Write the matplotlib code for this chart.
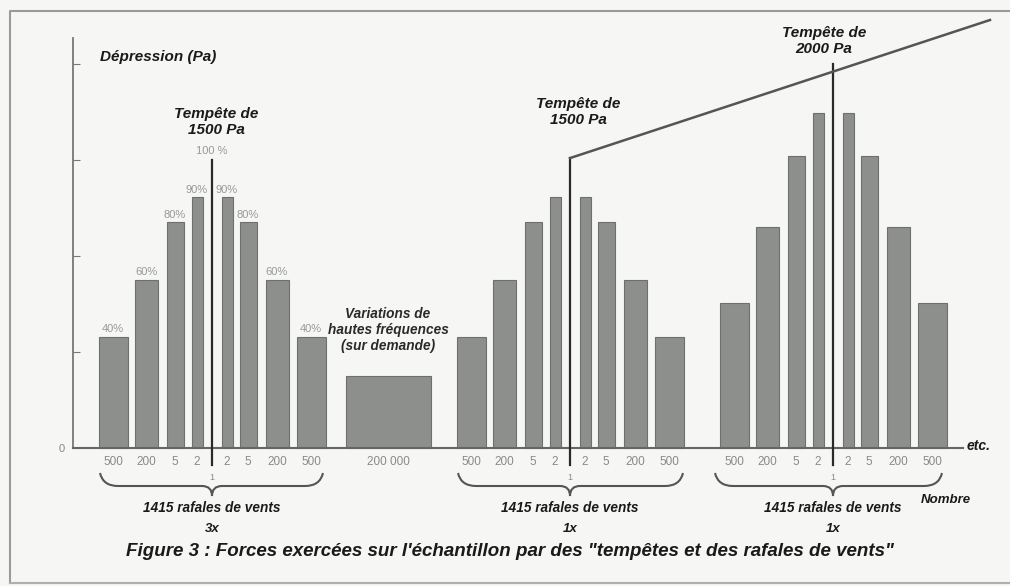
import numpy as np
import matplotlib
matplotlib.use("Agg")
import matplotlib.pyplot as plt
from matplotlib.path import Path
from matplotlib.patches import PathPatch

plt.rcParams['font.family'] = ['Liberation Sans', 'DejaVu Sans']

# data (Pa)
gust_counts = ["500", "200", "5", "2", "2", "5", "200", "500"]
pct_labels = ["40%", "60%", "80%", "90%", "90%", "80%", "60%", "40%"]
storm_1500 = [580, 875, 1175, 1305, 1305, 1175, 875, 580]
storm_2000 = [755, 1150, 1520, 1745, 1745, 1520, 1150, 755]
hf_value = 375
hf_label = "200 000"
storm_peaks = [1500, 1510, 2000]
storm_names = ["Tempête de\n1500 Pa", "Tempête de\n1500 Pa", "Tempête de\n2000 Pa"]
repeat_labels = ["3x", "1x", "1x"]
y_ticks = [0, 500, 1000, 1500, 2000]

# layout (pixel-like x units, figure is 1010 px wide)
W, H = 1010, 586
base_px = 448
pa_per_px = 500 / 96.0
storm_x = [212, 570, 833]
slot_off = [-99, -66, -37, -15, 15, 36, 65, 99]
slot_w = [29, 23, 17, 11, 11, 17, 23, 29]
hf_x, hf_w = 388, 85

bar_col = '#8c8f8c'
edge_col = '#6e706e'
bg = '#f6f6f4'

fig = plt.figure(figsize=(W / 100, H / 100), dpi=100, facecolor=bg)
ax = fig.add_axes([0, 0, 1, 1])
ax.set_facecolor('none')
ax.set_xlim(0, W)
ax.set_ylim(-(H - base_px) * pa_per_px, base_px * pa_per_px)

groups = [storm_1500, storm_1500, storm_2000]
tick_pos, tick_lab = [], []
for g, (sx, vals) in enumerate(zip(storm_x, groups)):
    xs = [sx + o for o in slot_off]
    ax.bar(xs, vals, width=slot_w, color=bar_col, edgecolor=edge_col, linewidth=0.8, zorder=2)
    tick_pos += xs
    tick_lab += gust_counts
    if g == 1:
        ax.bar(hf_x, hf_value, width=hf_w, color=bar_col, edgecolor=edge_col, linewidth=0.8, zorder=2)
        tick_pos.append(hf_x)
        tick_lab.append(hf_label)
    # storm line
    ax.plot([sx, sx], [-17 * pa_per_px, storm_peaks[g]], color='#2a2a2a', lw=1.6, zorder=3)

# percent labels on the first group
for o, v, p in zip(slot_off, storm_1500, pct_labels):
    ax.annotate(p, (storm_x[0] + o, v), xytext=(0, 2), textcoords='offset points',
                ha='center', va='bottom', fontsize=8, color='#999999')
ax.annotate("100 %", (storm_x[0], storm_peaks[0]), xytext=(0, 3), textcoords='offset points',
            ha='center', va='bottom', fontsize=8, color='#999999')

# rising line from the 1500 Pa storm to the 2000 Pa storm and beyond
ax.plot([storm_x[1], 990], [storm_peaks[1], (base_px - 20) * pa_per_px], color='#555555', lw=1.8, zorder=3)

# axes
for s in ['top', 'right']:
    ax.spines[s].set_visible(False)
ax.spines['left'].set_position(('data', 73))
ax.spines['left'].set_bounds(0, (base_px - 38) * pa_per_px)
ax.spines['bottom'].set_position(('data', 0))
ax.spines['bottom'].set_bounds(73, 963)
ax.spines['left'].set_color('#777777')
ax.spines['bottom'].set_color('#666666')
ax.spines['left'].set_linewidth(1.3)
ax.spines['bottom'].set_linewidth(1.5)
ax.set_yticks(y_ticks, ['0', '', '', '', ''])
ax.tick_params(axis='y', direction='in', length=5, color='#777777', labelcolor='#888888', labelsize=8, pad=6)
ax.set_xticks(tick_pos, tick_lab)
ax.tick_params(axis='x', length=0, labelcolor='#8a8a8a', labelsize=8.5, pad=6)

# overlay in pixel coordinates for annotations
ov = fig.add_axes([0, 0, 1, 1])
ov.set_xlim(0, W)
ov.set_ylim(H, 0)
ov.axis('off')

# scan frame
ov.plot([10, 10, W + 5], [583, 11, 11], color='#9a9a9a', lw=1.5)
ov.plot([10, W + 5], [583, 583], color='#b0b0b0', lw=1.5)

bi = dict(fontweight='bold', fontstyle='italic', color='#1a1a1a')
ov.text(100, 57, "Dépression (Pa)", fontsize=11, ha='left', va='center', **bi)
name_pos = [(216, 122), (578, 112), (824, 41)]
for (tx, ty), name in zip(name_pos, storm_names):
    ov.text(tx, ty, name, fontsize=11, ha='center', va='center', linespacing=1.1, **bi)
ov.text(hf_x, 330, "Variations de\nhautes fréquences\n(sur demande)", fontsize=9.8,
        ha='center', va='center', linespacing=1.2, fontweight='bold', fontstyle='italic', color='#2a2a2a')
ov.text(979, 446, "etc.", fontsize=10, ha='center', va='center', **bi)
ov.text(946, 500, "Nombre", fontsize=9.5, ha='center', va='center', **bi)


def brace(x0, x1, xc, y0=473, ym=486, yt=496):
    verts = [(x0, y0), (x0 + 3, ym), (x0 + 18, ym),
             (xc - 10, ym), (xc, ym), (xc, yt),
             (xc, ym), (xc + 10, ym),
             (x1 - 18, ym), (x1 - 3, ym), (x1, y0)]
    codes = [Path.MOVETO, Path.CURVE3, Path.CURVE3,
             Path.LINETO, Path.CURVE3, Path.CURVE3,
             Path.CURVE3, Path.CURVE3,
             Path.LINETO, Path.CURVE3, Path.CURVE3]
    ov.add_patch(PathPatch(Path(verts, codes), fill=False, edgecolor='#555555', lw=1.5))


brace_spans = [(100, 323), (458, 683), (715, 942)]
for (x0, x1), sx, rep in zip(brace_spans, storm_x, repeat_labels):
    brace(x0, x1, sx)
    ov.text(sx, 478, "1", fontsize=6.5, ha='center', va='center', color='#8a8a8a')
    ov.text(sx, 508, "1415 rafales de vents", fontsize=9.8, ha='center', va='center', **bi)
    ov.text(sx, 529, rep, fontsize=9.5, ha='center', va='center', **bi)

ov.text(510, 551, "Figure 3 : Forces exercées sur l'échantillon par des \"tempêtes et des rafales de vents\"",
        fontsize=13.5, ha='center', va='center', **bi)

fig.savefig("out.png", dpi=100, facecolor=bg)
